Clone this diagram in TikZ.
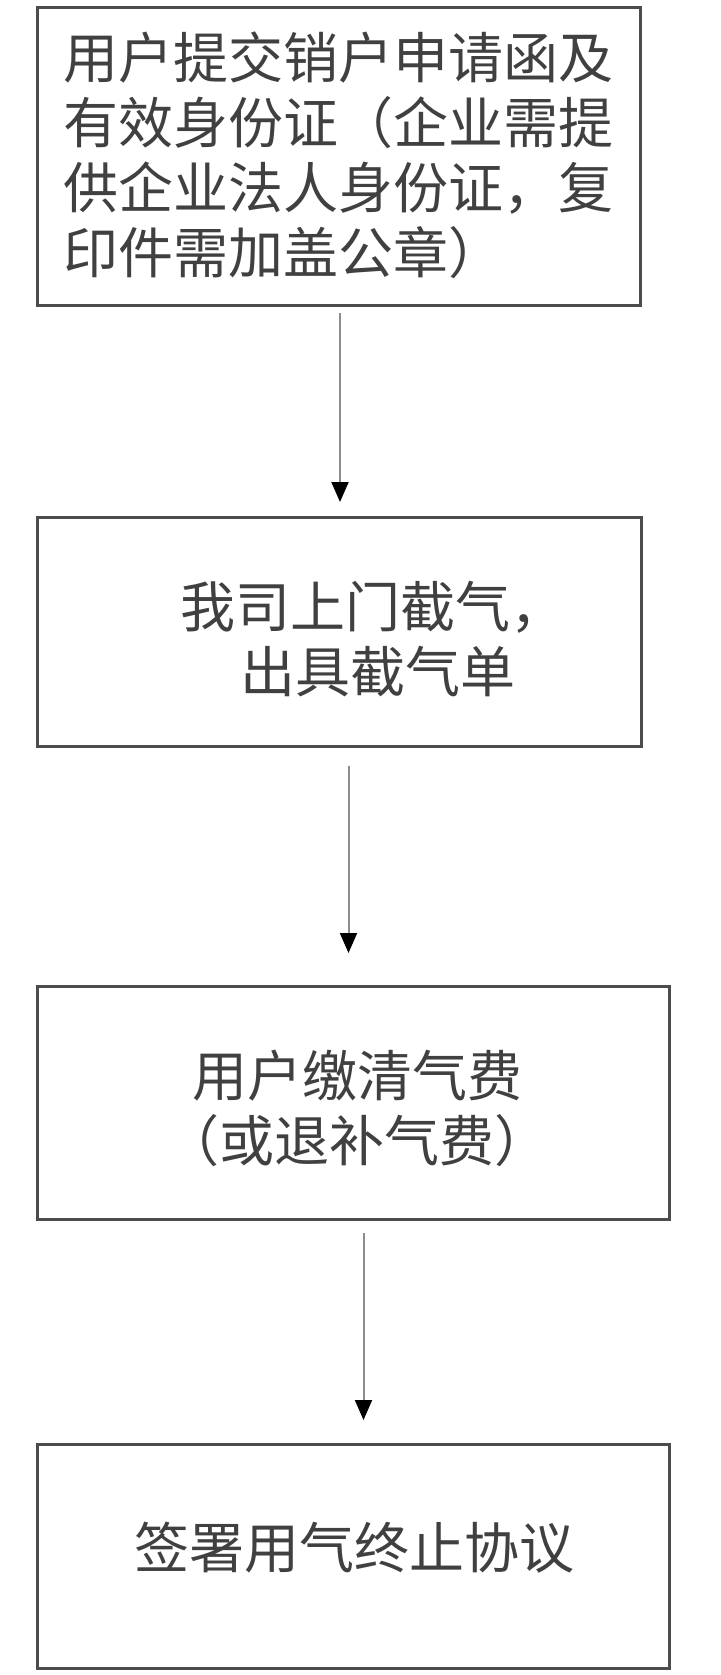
\documentclass[tikz,border=0pt]{standalone}
\usepackage{fontspec}
\newfontfamily\cjk{Noto Sans CJK SC}
\usepackage{tikz}
\usetikzlibrary{arrows.meta, calc}

\tikzset{
	stepbox/.style={draw=black!70, line width=3pt, rectangle, anchor=north west, inner sep=0pt},
	steptext/.style={font=\cjk\fontsize{55}{65}\selectfont, text=black!75, inner sep=0pt},
	flow/.style={draw=black!45, line width=2pt, -{Triangle[length=20pt, width=17pt, fill=black, color=black]}}
}

\begin{document}
\begin{tikzpicture}[x=1pt, y=-1pt]
	\useasboundingbox (0,0) rectangle (720,1675);
	
	% 流程框
	\node[stepbox, minimum width=603pt, minimum height=298pt] (b1) at (36,6) {};
	\node[stepbox, minimum width=604pt, minimum height=229pt] (b2) at (36,516) {};
	\node[stepbox, minimum width=632pt, minimum height=233pt] (b3) at (36,985) {};
	\node[stepbox, minimum width=632pt, minimum height=224pt] (b4) at (36,1443) {};
	
	% 文字
	\node[steptext, align=left] (t1) at (338,155) {用户提交销户申请函及\\有效身份证（企业需提\\供企业法人身份证，复\\印件需加盖公章）};
	\node[steptext, align=left, anchor=west] (t2) at (180,639) {我司上门截气，\\\hspace*{60pt}出具截气单};
	\node[steptext, align=center] (t3) at (357,1108) {用户缴清气费\\（或退补气费）};
	\node[steptext] (t4) at (354,1548) {签署用气终止协议};
	
	% 箭头
	\coordinate (s1) at ($(b1.south)+(1,6)$);
	\coordinate (e1) at ($(b2.north)+(0,-14)$);
	\coordinate (s2) at ($(b2.south)+(9,18)$);
	\coordinate (e2) at ($(b3.north)+(0,-32)$);
	\coordinate (s3) at ($(b3.south)+(10,12)$);
	\coordinate (e3) at ($(b4.north)+(0,-23)$);
	\draw[flow] (s1) -- (s1 |- e1);
	\draw[flow] (s2) -- (s2 |- e2);
	\draw[flow] (s3) -- (s3 |- e3);
\end{tikzpicture}
\end{document}
